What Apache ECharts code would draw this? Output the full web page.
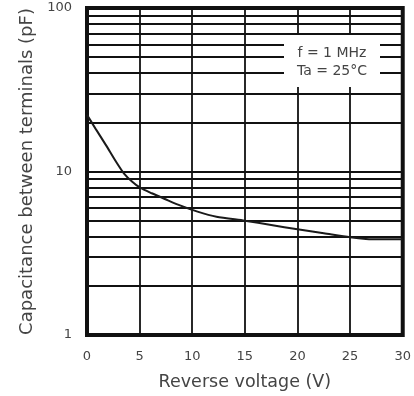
<!DOCTYPE html>
<html>
<head>
<meta charset="utf-8">
<script src="https://cdn.jsdelivr.net/npm/echarts@6/dist/echarts.min.js"></script>
<style>
html,body{margin:0;padding:0;background:#fff;}
#chart{width:414px;height:396px;}
</style>
</head>
<body>
<div id="chart"></div>
<script>
// Reverse voltage (V)
var voltage = [0, 0.9, 1.8, 2.75, 3.5, 4.3, 5.05, 6.15, 7.4, 8.9, 10.5, 12.3, 15, 17.5, 20, 22.5, 25, 26.5, 28, 30];
// Capacitance between terminals (pF)
var capacitance = [22.2, 17.9, 14.5, 11.5, 9.75, 8.66, 7.96, 7.36, 6.79, 6.18, 5.68, 5.29, 5.0, 4.71, 4.43, 4.19, 3.96, 3.87, 3.85, 3.85];
// minor (unlabelled) horizontal grid values on the log axis
var minorGrid = [2, 3, 4, 5, 6, 7, 8, 9, 20, 30, 40, 50, 60, 70, 80, 90];
var xTicks = [0, 5, 10, 15, 20, 25, 30];
var yTicks = [1, 10, 100];
var noteLines = ['f = 1 MHz', 'Ta = 25°C'];

var chart = echarts.init(document.getElementById('chart'));
var font = '"DejaVu Sans", sans-serif';
var txt = '#444';
var option = {
  animation: false,
  backgroundColor: '#ffffff',
  grid: {left: 87, right: 3, top: 8, bottom: 61, show: true, borderColor: '#111', borderWidth: 4, backgroundColor: 'transparent'},
  xAxis: {
    type: 'value', min: xTicks[0], max: xTicks[xTicks.length - 1], interval: 5,
    axisLine: {show: false}, axisTick: {show: false},
    splitLine: {show: true, lineStyle: {color: '#111', width: 1.8}},
    axisLabel: {color: txt, fontFamily: font, fontSize: 13, margin: 15},
    name: 'Reverse voltage (V)', nameLocation: 'middle', nameGap: 38,
    nameTextStyle: {color: txt, fontFamily: font, fontSize: 17.5}
  },
  yAxis: {
    type: 'log', logBase: 10, min: yTicks[0], max: yTicks[yTicks.length - 1],
    axisLine: {show: false}, axisTick: {show: false},
    splitLine: {show: true, lineStyle: {color: '#111', width: 1.8}},
    axisLabel: {color: txt, fontFamily: font, fontSize: 13, margin: 15},
    name: 'Capacitance between terminals (pF)', nameLocation: 'middle', nameGap: 49,
    nameTextStyle: {color: txt, fontFamily: font, fontSize: 18}
  },
  series: [
    {
      type: 'line', data: [], silent: true,
      markLine: {
        silent: true, symbol: 'none', label: {show: false},
        lineStyle: {color: '#111', width: 1.8, type: 'solid'},
        data: minorGrid.map(function (v) { return {yAxis: v}; })
      }
    },
    {
      type: 'line', smooth: 0.25, showSymbol: false,
      lineStyle: {color: '#1a1a1a', width: 2},
      data: voltage.map(function (v, i) { return [v, capacitance[i]]; }),
      z: 5
    }
  ],
  graphic: [
    {type: 'rect', z: 100, shape: {x: 284, y: 35, width: 96, height: 52}, style: {fill: '#fff'}},
    {type: 'text', z: 101, style: {text: noteLines[0], x: 332, y: 53, textAlign: 'center', textVerticalAlign: 'middle', fill: txt, font: '14px ' + font}},
    {type: 'text', z: 101, style: {text: noteLines[1], x: 332, y: 71, textAlign: 'center', textVerticalAlign: 'middle', fill: txt, font: '14px ' + font}}
  ]
};
chart.setOption(option);
</script>
</body>
</html>
